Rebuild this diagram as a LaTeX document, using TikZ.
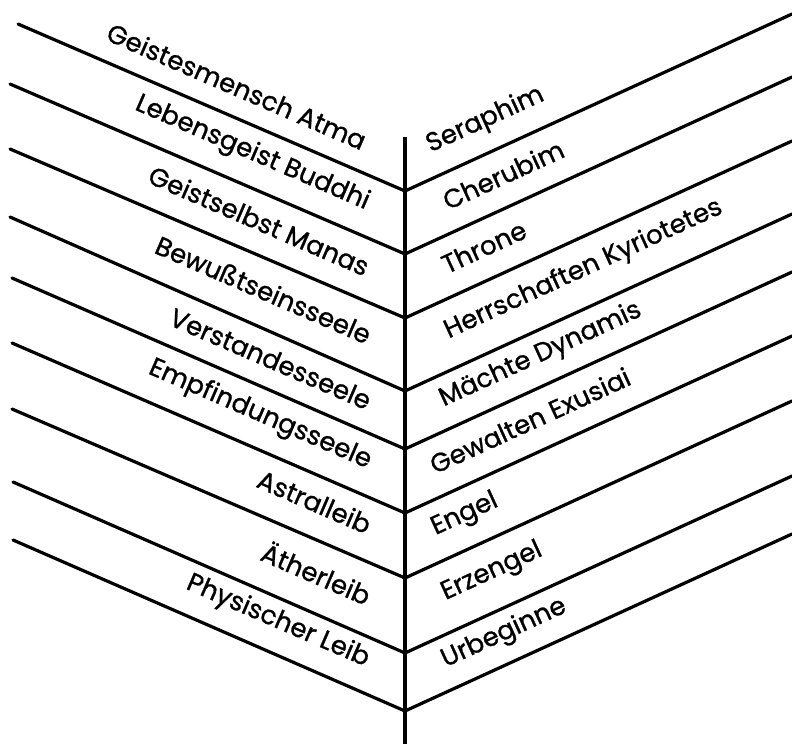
\documentclass[tikz,border=0pt]{standalone}
\usepackage{fontspec}
\setmainfont{Poppins}
\newfontfamily\handfont[FakeBold=1]{Poppins}
\usepackage{tikz}

\begin{document}
\begin{tikzpicture}[x=1pt, y=-1pt,
    stem/.style={line width=3.4pt},
    rung/.style={line width=3.2pt, line cap=round, line join=miter},
    wesen/.style={font=\handfont\fontsize{26}{26}\selectfont, inner sep=1pt},
    leib/.style={wesen, anchor=east, rotate=-23.4},
    hier/.style={wesen, anchor=west, rotate=24.6}
  ]
    \useasboundingbox (0,0) rectangle (792,744);

    \foreach \i/\x/\y/\j in {1/18/24/191, 2/10/84/254, 3/10/149/318,
                             4/10/217/391, 5/12/278/449, 6/12/343/513,
                             7/12/409/578, 8/13/482/653, 9/13/540/711}
    {
      \coordinate (l\i) at (\x,\y);
      \coordinate (j\i) at (405,\j);
      \coordinate (r\i) at (792,\j-177);
    }
    \coordinate (top) at (405,137);
    \coordinate (bot) at (405,744);

    \draw[stem] (top) -- (bot);
    \foreach \i in {1,...,9}
      \draw[rung] (l\i) -- (j\i) -- (r\i);

    \node[leib] (atma)    at (366,142) {Geistesmensch Atma};
    \node[leib] (buddhi)  at (369,204) {Lebensgeist Buddhi};
    \node[leib] (manas)   at (369,268) {Geistselbst Manas};
    \node[leib] (bewusst) at (371,336) {Bewußtseinsseele};
    \node[leib] (verst)   at (371,402) {Verstandesseele};
    \node[leib] (empf)    at (371,463) {Empfindungsseele};
    \node[leib] (astral)  at (371,526) {Astralleib};
    \node[leib] (aether)  at (371,596) {Ätherleib};
    \node[leib] (phys)    at (369,661) {Physischer Leib};

    \node[hier] (seraph)  at (427,147) {Seraphim};
    \node[hier] (cherub)  at (443,202) {Cherubim};
    \node[hier] (throne)  at (442,266) {Throne};
    \node[hier] (kyrio)   at (445,333) {Herrschaften Kyriotetes};
    \node[hier] (dynamis) at (440,401) {Mächte Dynamis};
    \node[hier] (exusiai) at (430,466) {Gewalten Exusiai};
    \node[hier] (engel)   at (432,530) {Engel};
    \node[hier] (erzengel)at (442,595) {Erzengel};
    \node[hier] (urbeg)   at (442,662) {Urbeginne};
  \end{tikzpicture}
\end{document}
